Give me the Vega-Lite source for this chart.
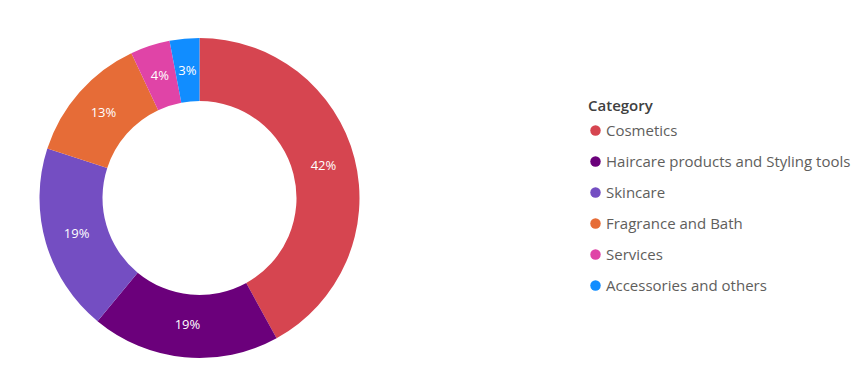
{
  "$schema": "https://vega.github.io/schema/vega-lite/v6.json",
  "autosize": "none",
  "width": 399,
  "height": 342,
  "padding": {"left": 0, "top": 27, "right": 463, "bottom": 0},
  "background": "white",
  "config": {"view": {"stroke": null}, "font": "Open Sans"},
  "data": {
    "values": [
      {"Category": "Cosmetics", "share": 0.42, "order": 1},
      {"Category": "Haircare products and Styling tools", "share": 0.19, "order": 2},
      {"Category": "Skincare", "share": 0.19, "order": 3},
      {"Category": "Fragrance and Bath", "share": 0.13, "order": 4},
      {"Category": "Services", "share": 0.04, "order": 5},
      {"Category": "Accessories and others", "share": 0.03, "order": 6}
    ]
  },
  "encoding": {
    "theta": {"field": "share", "type": "quantitative", "stack": true},
    "order": {"field": "order", "type": "quantitative"}
  },
  "layer": [
    {
      "mark": {"type": "arc", "outerRadius": 160, "innerRadius": 97},
      "encoding": {
        "color": {
          "field": "Category",
          "type": "nominal",
          "scale": {
            "domain": ["Cosmetics", "Haircare products and Styling tools", "Skincare", "Fragrance and Bath", "Services", "Accessories and others"],
            "range": ["#D64550", "#6B007B", "#744EC2", "#E66C37", "#E044A7", "#118DFF"]
          },
          "legend": {
            "orient": "none",
            "legendX": 588,
            "legendY": 72,
            "title": "Category",
            "titleFontSize": 15,
            "titleFontWeight": 600,
            "titleColor": "#404040",
            "titlePadding": 9,
            "labelFontSize": 15,
            "labelColor": "#605E5C",
            "labelOffset": 3,
            "labelLimit": 400,
            "symbolType": "circle",
            "symbolSize": 110,
            "symbolStrokeWidth": 0,
            "rowPadding": 15
          }
        }
      }
    },
    {
      "mark": {"type": "text", "radius": 128, "color": "white", "fontSize": 13},
      "encoding": {
        "text": {"field": "share", "type": "quantitative", "format": ".0%"},
        "detail": {"field": "Category"}
      }
    }
  ]
}
